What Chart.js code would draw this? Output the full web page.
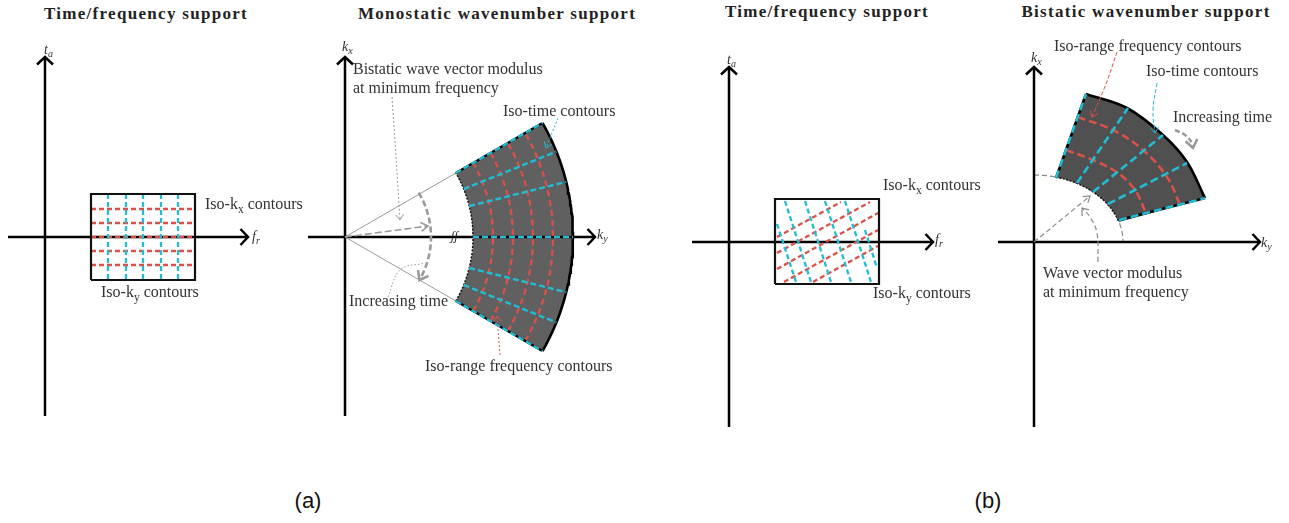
<!DOCTYPE html>
<html>
<head>
<meta charset="utf-8">
<script src="https://cdn.jsdelivr.net/npm/chart.js@4.4.0/dist/chart.umd.min.js"></script>
<style>
    body { margin: 0; background: #fff; }
    #page { position: relative; width: 1289px; height: 523px; overflow: hidden; }
    #page canvas { position: absolute; top: 0; }
    .title { position: absolute; font: bold 17px "Liberation Serif"; letter-spacing: 1.3px; color: #222;
             white-space: nowrap; transform: translateX(-50%); line-height: 17px; }
    .tag { position: absolute; font: 22px "Liberation Sans"; color: #111; transform: translateX(-50%); line-height: 22px; }
</style>
</head>
<body>
<div id="page">
    <div class="title" style="left:146px; top:5px">Time/frequency support</div>
    <div class="title" style="left:497px; top:5px">Monostatic wavenumber support</div>
    <div class="title" style="left:827px; top:3px">Time/frequency support</div>
    <div class="title" style="left:1146px; top:3px">Bistatic wavenumber support</div>
    <div class="tag" style="left:308px; top:490px">(a)</div>
    <div class="tag" style="left:988px; top:490px">(b)</div>
</div>
<script>
// Units: one unit on either axis = 10 px, origin at the crossing of the axes

// --- (a) time/frequency support ---
const tfAxisH = [-3.7, 20.3];
const tfAxisV = [-17.9, 18.0];
const tfRectF = [4.6, 15.0];
const tfRectT = [-4.3, 4.3];
const isoKyFreqs = [6.3, 8.1, 9.8, 11.6, 13.3];      // blue, vertical
const isoKxTimes = [2.8, 1.4, 0, -1.4, -2.8];        // red, horizontal

// --- (a) monostatic wavenumber support ---
const monoAxisH = [-3.7, 25.0];
const monoAxisV = [-17.9, 18.0];
const monoRadii = [12.8, 22.8];                      // min / max modulus
const monoSpan = [-30, 30];                          // degrees
const monoIsoRange = [14.8, 16.8, 18.8, 20.8];
const monoIsoTime = [30, 22, 14, 0, -14, -22, -30];
const monoTimeArc = 8.6;

// --- (b) time/frequency support ---
const tfbAxisH = [-3.7, 20.4];
const tfbAxisV = [-18.5, 17.5];
const tfbRectF = [4.6, 15.0];
const tfbRectT = [-4.2, 4.3];
const tfbIsoKx = [                                   // red segments
    [[4.8, 0.5], [11.2, 4.0]],
    [[4.8, -1.1], [14.1, 4.0]],
    [[4.8, -2.7], [14.9, 2.9]],
    [[5.5, -4.0], [14.9, 1.2]],
    [[8.4, -4.0], [14.9, -0.4]]
];
const tfbIsoKy = [                                   // blue segments
    [[4.8, 1.8], [6.7, -4.0]],
    [[5.6, 4.1], [8.2, -4.0]],
    [[7.6, 4.1], [10.2, -4.0]],
    [[9.6, 4.1], [12.2, -4.0]],
    [[11.6, 4.1], [14.2, -4.0]],
    [[13.6, 1.2], [14.8, -2.6]]
];

// --- (b) bistatic wavenumber support ---
const biAxisH = [-3.6, 22.6];
const biAxisV = [-18.5, 17.5];
const biMinModulus = [8.9, 6.7];                     // semi-axes of the min-frequency curve
const biInnerSpan = [75.7, 17.3];                    // parameter range of the inner edge, degrees
const biOuter = [[5.2, 14.8], [9.3, 13.4], [12.9, 10.7], [15.3, 8.0], [17.1, 4.4]];
const biIsoRange = [
    [[4.35, 12.5], [7.9, 11.2], [10.9, 9.2], [13.3, 6.5], [14.6, 3.75]],
    [[3.2, 9.2], [5.9, 8.2], [8.4, 6.9], [10.1, 5.2], [11.2, 2.9]]
];
const biIsoTime = [
    [[2.2, 6.4], [5.2, 14.8]],
    [[4.3, 5.9], [9.4, 13.4]],
    [[5.9, 5.0], [12.9, 10.7]],
    [[7.4, 3.8], [15.3, 7.9]],
    [[8.5, 2.2], [17.1, 4.4]]
];

const RED = '#d9524a';
const BLUE = '#22bcd3';
const GREY = '#9a9a9a';
const INK = '#333';

function line(points, color, width, dash, extra) {
    return Object.assign({
        data: points.map(p => ({ x: p[0], y: p[1] })),
        showLine: true,
        borderColor: color,
        borderWidth: width,
        borderDash: dash || [],
        borderCapStyle: 'butt',
        borderJoinStyle: 'miter',
        pointRadius: 0,
        fill: false,
        tension: 0
    }, extra || {});
}

function arc(r, a0, a1) {
    const pts = [];
    const n = Math.max(2, Math.ceil(Math.abs(a1 - a0)));
    for (let i = 0; i <= n; i++) {
        const a = (a0 + (a1 - a0) * i / n) * Math.PI / 180;
        pts.push([r * Math.cos(a), r * Math.sin(a)]);
    }
    return pts;
}

function ellipse(ax, ay, t0, t1) {
    const pts = [];
    const n = Math.max(2, Math.ceil(Math.abs(t1 - t0) / 2));
    for (let i = 0; i <= n; i++) {
        const t = (t0 + (t1 - t0) * i / n) * Math.PI / 180;
        pts.push([ax * Math.cos(t), ay * Math.sin(t)]);
    }
    return pts;
}

// open chevron at tip, pointing away from "from"
function head(tip, from, len, wid) {
    const dx = tip[0] - from[0], dy = tip[1] - from[1];
    const d = Math.hypot(dx, dy);
    const ux = dx / d, uy = dy / d;
    return [
        [tip[0] - ux * len - uy * wid, tip[1] - uy * len + ux * wid],
        tip,
        [tip[0] - ux * len + uy * wid, tip[1] - uy * len - ux * wid]
    ];
}

function axes(h, v) {
    return [
        line([[h[0], 0], [h[1], 0]], '#000', 2.5),
        line(head([h[1], 0], [0, 0], 0.75, 0.8), '#000', 2.5),
        line([[0, v[0]], [0, v[1]]], '#000', 2.5),
        line(head([0, v[1]], [0, 0], 0.75, 0.8), '#000', 2.5)
    ];
}

function rect(f, t) {
    return line([[f[0], t[0]], [f[1], t[0]], [f[1], t[1]], [f[0], t[1]], [f[0], t[0]]], '#111', 2.2);
}

// text helpers: parts are [text, style] with style '', 'i', 'sub', 'isub'
function notes(items) {
    return {
        id: 'notes',
        afterDatasetsDraw(chart) {
            const { ctx } = chart;
            const sx = chart.scales.x, sy = chart.scales.y;
            ctx.save();
            ctx.textBaseline = 'middle';
            ctx.textAlign = 'left';
            items.forEach(it => {
                let px = sx.getPixelForValue(it.at[0]);
                const py = sy.getPixelForValue(it.at[1]);
                const size = it.size || 16;
                ctx.fillStyle = it.color || INK;
                it.parts.forEach(([txt, st]) => {
                    const sub = st && st.includes('sub');
                    const ital = st && st.includes('i');
                    const fs = sub ? size * 0.72 : size;
                    ctx.font = (ital ? 'italic ' : '') + fs + 'px "Liberation Serif"';
                    ctx.fillText(txt, px, sub ? py + size * 0.28 : py);
                    px += ctx.measureText(txt).width;
                });
            });
            ctx.restore();
        }
    };
}

const page = document.getElementById('page');

function makePanel(left, width, origin, datasets, items) {
    const canvas = document.createElement('canvas');
    canvas.width = width;
    canvas.height = 440;
    canvas.style.left = left + 'px';
    page.appendChild(canvas);
    new Chart(canvas, {
        type: 'scatter',
        // first dataset is drawn last, so reverse the bottom-to-top list
        data: { datasets: datasets.slice().reverse() },
        options: {
            responsive: false,
            animation: false,
            events: [],
            layout: { padding: 0 },
            plugins: { legend: { display: false }, tooltip: { enabled: false } },
            scales: {
                x: { type: 'linear', display: false, min: -origin[0] / 10, max: (width - origin[0]) / 10 },
                y: { type: 'linear', display: false, min: -(440 - origin[1]) / 10, max: origin[1] / 10 }
            }
        },
        plugins: [notes(items)]
    });
}

const mathLabel = (at, a, b) => ({ at: at, size: 14, parts: [[a, 'i'], [b, 'isub']] });

// ---------- panel 1 ----------
(function () {
    const ds = axes(tfAxisH, tfAxisV);
    isoKxTimes.forEach(t => ds.push(line([[tfRectF[0], t], [tfRectF[1], t]], RED, 2.3, [5, 3])));
    isoKyFreqs.forEach(f => ds.push(line([[f, tfRectT[1]], [f, tfRectT[0]]], BLUE, 2.3, [5, 3])));
    ds.push(rect(tfRectF, tfRectT));
    makePanel(0, 320, [45, 237], ds, [
        mathLabel([-0.1, 18.7], 't', 'a'),
        mathLabel([20.7, 0], 'f', 'r'),
        { at: [16.0, 3.2], parts: [['Iso-k'], ['x', 'sub'], [' contours']] },
        { at: [5.6, -5.6], parts: [['Iso-k'], ['y', 'sub'], [' contours']] }
    ]);
})();

// ---------- panel 2 ----------
(function () {
    const [rIn, rOut] = monoRadii;
    const [a0, a1] = monoSpan;
    const shape = arc(rIn, a1, a0).concat(arc(rOut, a0, a1));
    shape.push(shape[0]);
    const ds = [];
    ds.push(line(shape, '#606060', 0, [], { fill: 'shape', backgroundColor: '#606060' }));
    ds.push(...axes(monoAxisH, monoAxisV));
    // annotation guides
    const cTop = arc(rIn, a1, a1)[0], cBot = arc(rIn, a0, a0)[0];
    ds.push(line([[0, 0], cTop], GREY, 1));
    ds.push(line([[0, 0], cBot], GREY, 1));
    ds.push(line([[0, 0], [8.3, 1.1]], GREY, 1.6, [7, 3]));
    ds.push(line(head([8.3, 1.1], [0, 0], 0.7, 0.45), GREY, 1.6));
    const tArc = arc(monoTimeArc, 31, -30);
    ds.push(line(tArc, GREY, 2.6, [6, 3]));
    ds.push(line(head(tArc[tArc.length - 1], tArc[tArc.length - 4], 0.8, 0.6), GREY, 2.6));
    ds.push(line([[4.7, 14.0], [5.1, 8.0], [5.5, 1.7]], GREY, 1, [2, 2]));
    ds.push(line(head([5.5, 1.7], [5.4, 3.0], 0.55, 0.4), GREY, 1));
    ds.push(line([[4.3, -6.0], [5.5, -3.3], [8.0, -2.6]], GREY, 1, [1.5, 2], { tension: 0.4 }));
    // sector edges and contours
    ds.push(line(arc(rIn, a0, a1), '#111', 1.4, [2, 1.5]));
    ds.push(line(arc(rOut, a0, a1), '#000', 2.6));
    monoIsoRange.forEach(r => ds.push(line(arc(r, a0, a1), RED, 2.3, [6, 4])));
    monoIsoTime.forEach(a => {
        const p = [arc(rIn, a, a)[0], arc(rOut, a, a)[0]];
        if (Math.abs(a) === 30) ds.push(line(p, '#000', 2.4));
        ds.push(line(p, BLUE, 2.4, [6, 3]));
    });
    ds.push(line([[21.3, 11.9], [20.1, 8.9]], BLUE, 1, [2, 2]));
    ds.push(line(head([20.1, 8.9], [21.3, 11.9], 0.55, 0.4), BLUE, 1));
    ds.push(line([[15.5, -11.8], [15.2, -7.9]], RED, 1, [2, 2]));
    ds.push(line(head([15.2, -7.9], [15.5, -11.8], 0.55, 0.4), RED, 1));
    makePanel(300, 340, [45, 237], ds, [
        mathLabel([-0.3, 19.0], 'k', 'x'),
        mathLabel([25.2, 0.2], 'k', 'y'),
        { at: [10.6, 0], size: 12, color: '#222', parts: [['ʃʃ', 'i']] },
        { at: [0.8, 16.7], parts: [['Bistatic wave vector modulus']] },
        { at: [0.8, 14.8], parts: [['at minimum frequency']] },
        { at: [15.8, 12.5], parts: [['Iso-time contours']] },
        { at: [0.4, -6.5], parts: [['Increasing time']] },
        { at: [8.0, -13.0], parts: [['Iso-range frequency contours']] }
    ]);
})();

// ---------- panel 3 ----------
(function () {
    const ds = axes(tfbAxisH, tfbAxisV);
    tfbIsoKx.forEach(s => ds.push(line(s, RED, 2.3, [5, 3])));
    tfbIsoKy.forEach(s => ds.push(line(s, BLUE, 2.3, [5, 3])));
    ds.push(rect(tfbRectF, tfbRectT));
    makePanel(680, 320, [49, 242], ds, [
        mathLabel([-0.2, 18.2], 't', 'a'),
        mathLabel([20.6, 0.2], 'f', 'r'),
        { at: [15.4, 5.6], parts: [['Iso-k'], ['x', 'sub'], [' contours']] },
        { at: [14.4, -5.2], parts: [['Iso-k'], ['y', 'sub'], [' contours']] }
    ]);
})();

// ---------- panel 4 ----------
(function () {
    const [ax, ay] = biMinModulus;
    const inner = ellipse(ax, ay, biInnerSpan[0], biInnerSpan[1]);
    const outerRev = biOuter.slice().reverse();
    const shape = inner.concat([inner[inner.length - 1], outerRev[0]], outerRev, [outerRev[outerRev.length - 1], inner[0], inner[0]]);
    const ds = [];
    ds.push(line(ellipse(ax, ay, 90, 0), '#8a8a8a', 1.2, [5, 3]));
    ds.push(line(shape, '#505050', 0, [], { fill: 'shape', backgroundColor: '#505050', tension: 0.35 }));
    ds.push(...axes(biAxisH, biAxisV));
    ds.push(line([[0, 0], [5.6, 4.6]], '#8a8a8a', 1.2, [5, 3]));
    ds.push(line(head([5.6, 4.6], [0, 0], 0.6, 0.4), '#8a8a8a', 1.2));
    ds.push(line([[6.4, -2.0], [6.3, 0.9], [5.6, 2.5], [4.8, 3.4]], '#8a8a8a', 1.2, [5, 3], { tension: 0.4 }));
    ds.push(line(head([4.8, 3.4], [5.6, 2.5], 0.6, 0.4), '#8a8a8a', 1.2));
    ds.push(line(inner, '#111', 1.4, [2, 1.5]));
    ds.push(line(biOuter, '#000', 2.6, [], { tension: 0.35 }));
    biIsoRange.forEach(a => ds.push(line(a, RED, 2.6, [8, 4], { tension: 0.35 })));
    biIsoTime.forEach((s, i) => {
        if (i === 0 || i === biIsoTime.length - 1) ds.push(line(s, '#000', 2.6));
        ds.push(line(s, BLUE, 2.6, [8, 4]));
    });
    ds.push(line([[14.1, 11.2], [15.1, 10.7], [15.8, 9.9], [15.9, 9.4]], GREY, 2.6, [5, 3], { tension: 0.4 }));
    ds.push(line(head([15.9, 9.4], [15.8, 9.9], 0.8, 0.6), GREY, 2.6));
    ds.push(line([[8.3, 19.0], [7.2, 15.8], [5.8, 12.5]], RED, 1, [4, 2], { tension: 0.3 }));
    ds.push(line(head([5.8, 12.5], [6.3, 13.6], 0.55, 0.4), RED, 1));
    ds.push(line([[12.3, 15.9], [11.9, 13.2], [12.1, 10.9]], BLUE, 1, [4, 2], { tension: 0.4 }));
    ds.push(line(head([12.1, 10.9], [12.0, 12.0], 0.55, 0.4), BLUE, 1));
    makePanel(980, 309, [54, 242], ds, [
        mathLabel([-0.3, 18.4], 'k', 'x'),
        mathLabel([22.7, -0.1], 'k', 'y'),
        { at: [2.0, 19.5], parts: [['Iso-range frequency contours']] },
        { at: [11.2, 17.0], parts: [['Iso-time contours']] },
        { at: [13.9, 12.4], parts: [['Increasing time']] },
        { at: [0.9, -3.2], parts: [['Wave vector modulus']] },
        { at: [0.9, -5.1], parts: [['at minimum frequency']] }
    ]);
})();
</script>
</body>
</html>
